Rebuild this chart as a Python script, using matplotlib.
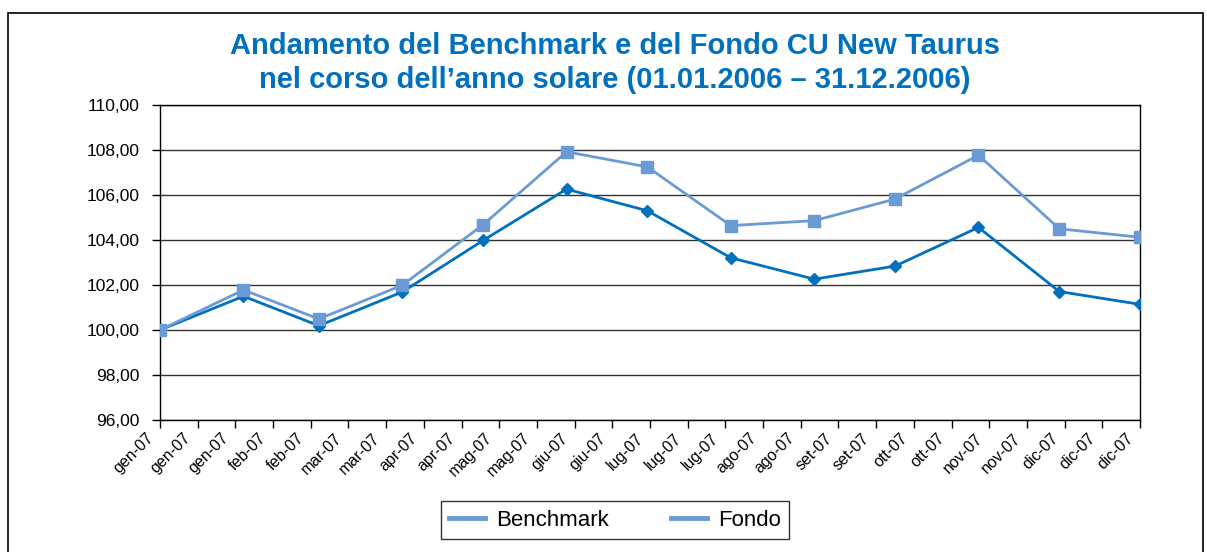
import matplotlib
matplotlib.use('Agg')
from matplotlib import pyplot as plt
from matplotlib.lines import Line2D
from matplotlib.patches import Rectangle
import matplotlib.transforms as mtrans
import pandas as pd

plt.rcParams['font.family'] = ['Liberation Sans', 'DejaVu Sans']

# dati
date = ['2007-01-01', '2007-02-01', '2007-03-01', '2007-04-01', '2007-05-01', '2007-06-01', '2007-07-01',
        '2007-08-01', '2007-09-01', '2007-10-01', '2007-11-01', '2007-12-01', '2007-12-31']
benchmark = [100.00, 101.50, 100.19, 101.69, 103.98, 106.26, 105.30, 103.21, 102.26, 102.84, 104.56, 101.71, 101.14]
fondo = [100.00, 101.78, 100.49, 101.99, 104.68, 107.92, 107.25, 104.64, 104.86, 105.82, 107.77, 104.50, 104.12]

# etichette asse x (ogni 14 giorni)
etichette_x = ['gen-07', 'gen-07', 'gen-07', 'feb-07', 'feb-07', 'mar-07', 'mar-07', 'apr-07', 'apr-07',
               'mag-07', 'mag-07', 'giu-07', 'giu-07', 'lug-07', 'lug-07', 'lug-07', 'ago-07', 'ago-07',
               'set-07', 'set-07', 'ott-07', 'ott-07', 'nov-07', 'nov-07', 'dic-07', 'dic-07', 'dic-07']
tick_y = [96, 98, 100, 102, 104, 106, 108, 110]

col_bench = '#0070bf'
col_fondo = '#6a9bd4'

fig = plt.figure(figsize=(12.07, 5.52), dpi=100)
ax = fig.add_axes([160 / 1207, 1 - 420 / 552, 980 / 1207, 315 / 552])

x = pd.to_datetime(date)
x_tick = pd.date_range('2007-01-01', periods=len(etichette_x), freq='14D')

ax.plot(x, benchmark, color=col_bench, lw=2, marker='D', ms=6, zorder=3)
ax.plot(x, fondo, color=col_fondo, lw=2, marker='s', ms=8, zorder=4)

ax.set_xlim(x_tick[0], x_tick[-1])
ax.set_ylim(96, 110)
ax.set_yticks(tick_y)
ax.set_yticklabels([('%.2f' % v).replace('.', ',') for v in tick_y], fontsize=12.5)
ax.set_xticks(x_tick)
ax.set_xticklabels(etichette_x, rotation=45, ha='right', va='center', rotation_mode='anchor', fontsize=11.5)
ax.tick_params(axis='both', length=6, width=1, color='black', direction='out')
ax.tick_params(axis='y', pad=9)
ax.tick_params(axis='x', pad=4)

# sposta leggermente le etichette x come nell'originale
sposta = mtrans.ScaledTranslation(-9 / 100, -2 / 100, fig.dpi_scale_trans)
for lab in ax.get_xticklabels():
    lab.set_transform(lab.get_transform() + sposta)

ax.grid(axis='y', color='#333333', lw=1)
for s in ax.spines.values():
    s.set_color('black')
    s.set_linewidth(1)

fig.text(0.5095, 1 - 63 / 552, 'Andamento del Benchmark e del Fondo CU New Taurus\nnel corso dell\u2019anno solare (01.01.2006 \u2013 31.12.2006)',
         ha='center', va='center', fontsize=21, fontweight='bold', color='#0070bf', linespacing=1.3)

handles = [Line2D([], [], color=col_fondo, lw=3.5), Line2D([], [], color=col_fondo, lw=3.5)]
leg = fig.legend(handles, ['Benchmark', 'Fondo'], loc='center', bbox_to_anchor=(615 / 1207, 1 - 520 / 552),
                 ncol=2, fontsize=16, frameon=True, fancybox=False, edgecolor='black', borderpad=0.4,
                 handlelength=1.6, columnspacing=2.8, handletextpad=0.5, borderaxespad=0)
leg.get_frame().set_linewidth(1)

# cornice esterna
fig.patches.append(Rectangle((8 / 1207, -0.05), 1195 / 1207, 1.05 - 13 / 552, transform=fig.transFigure,
                             fill=False, edgecolor='black', lw=1.2))

plt.savefig('out.png', dpi=100)
